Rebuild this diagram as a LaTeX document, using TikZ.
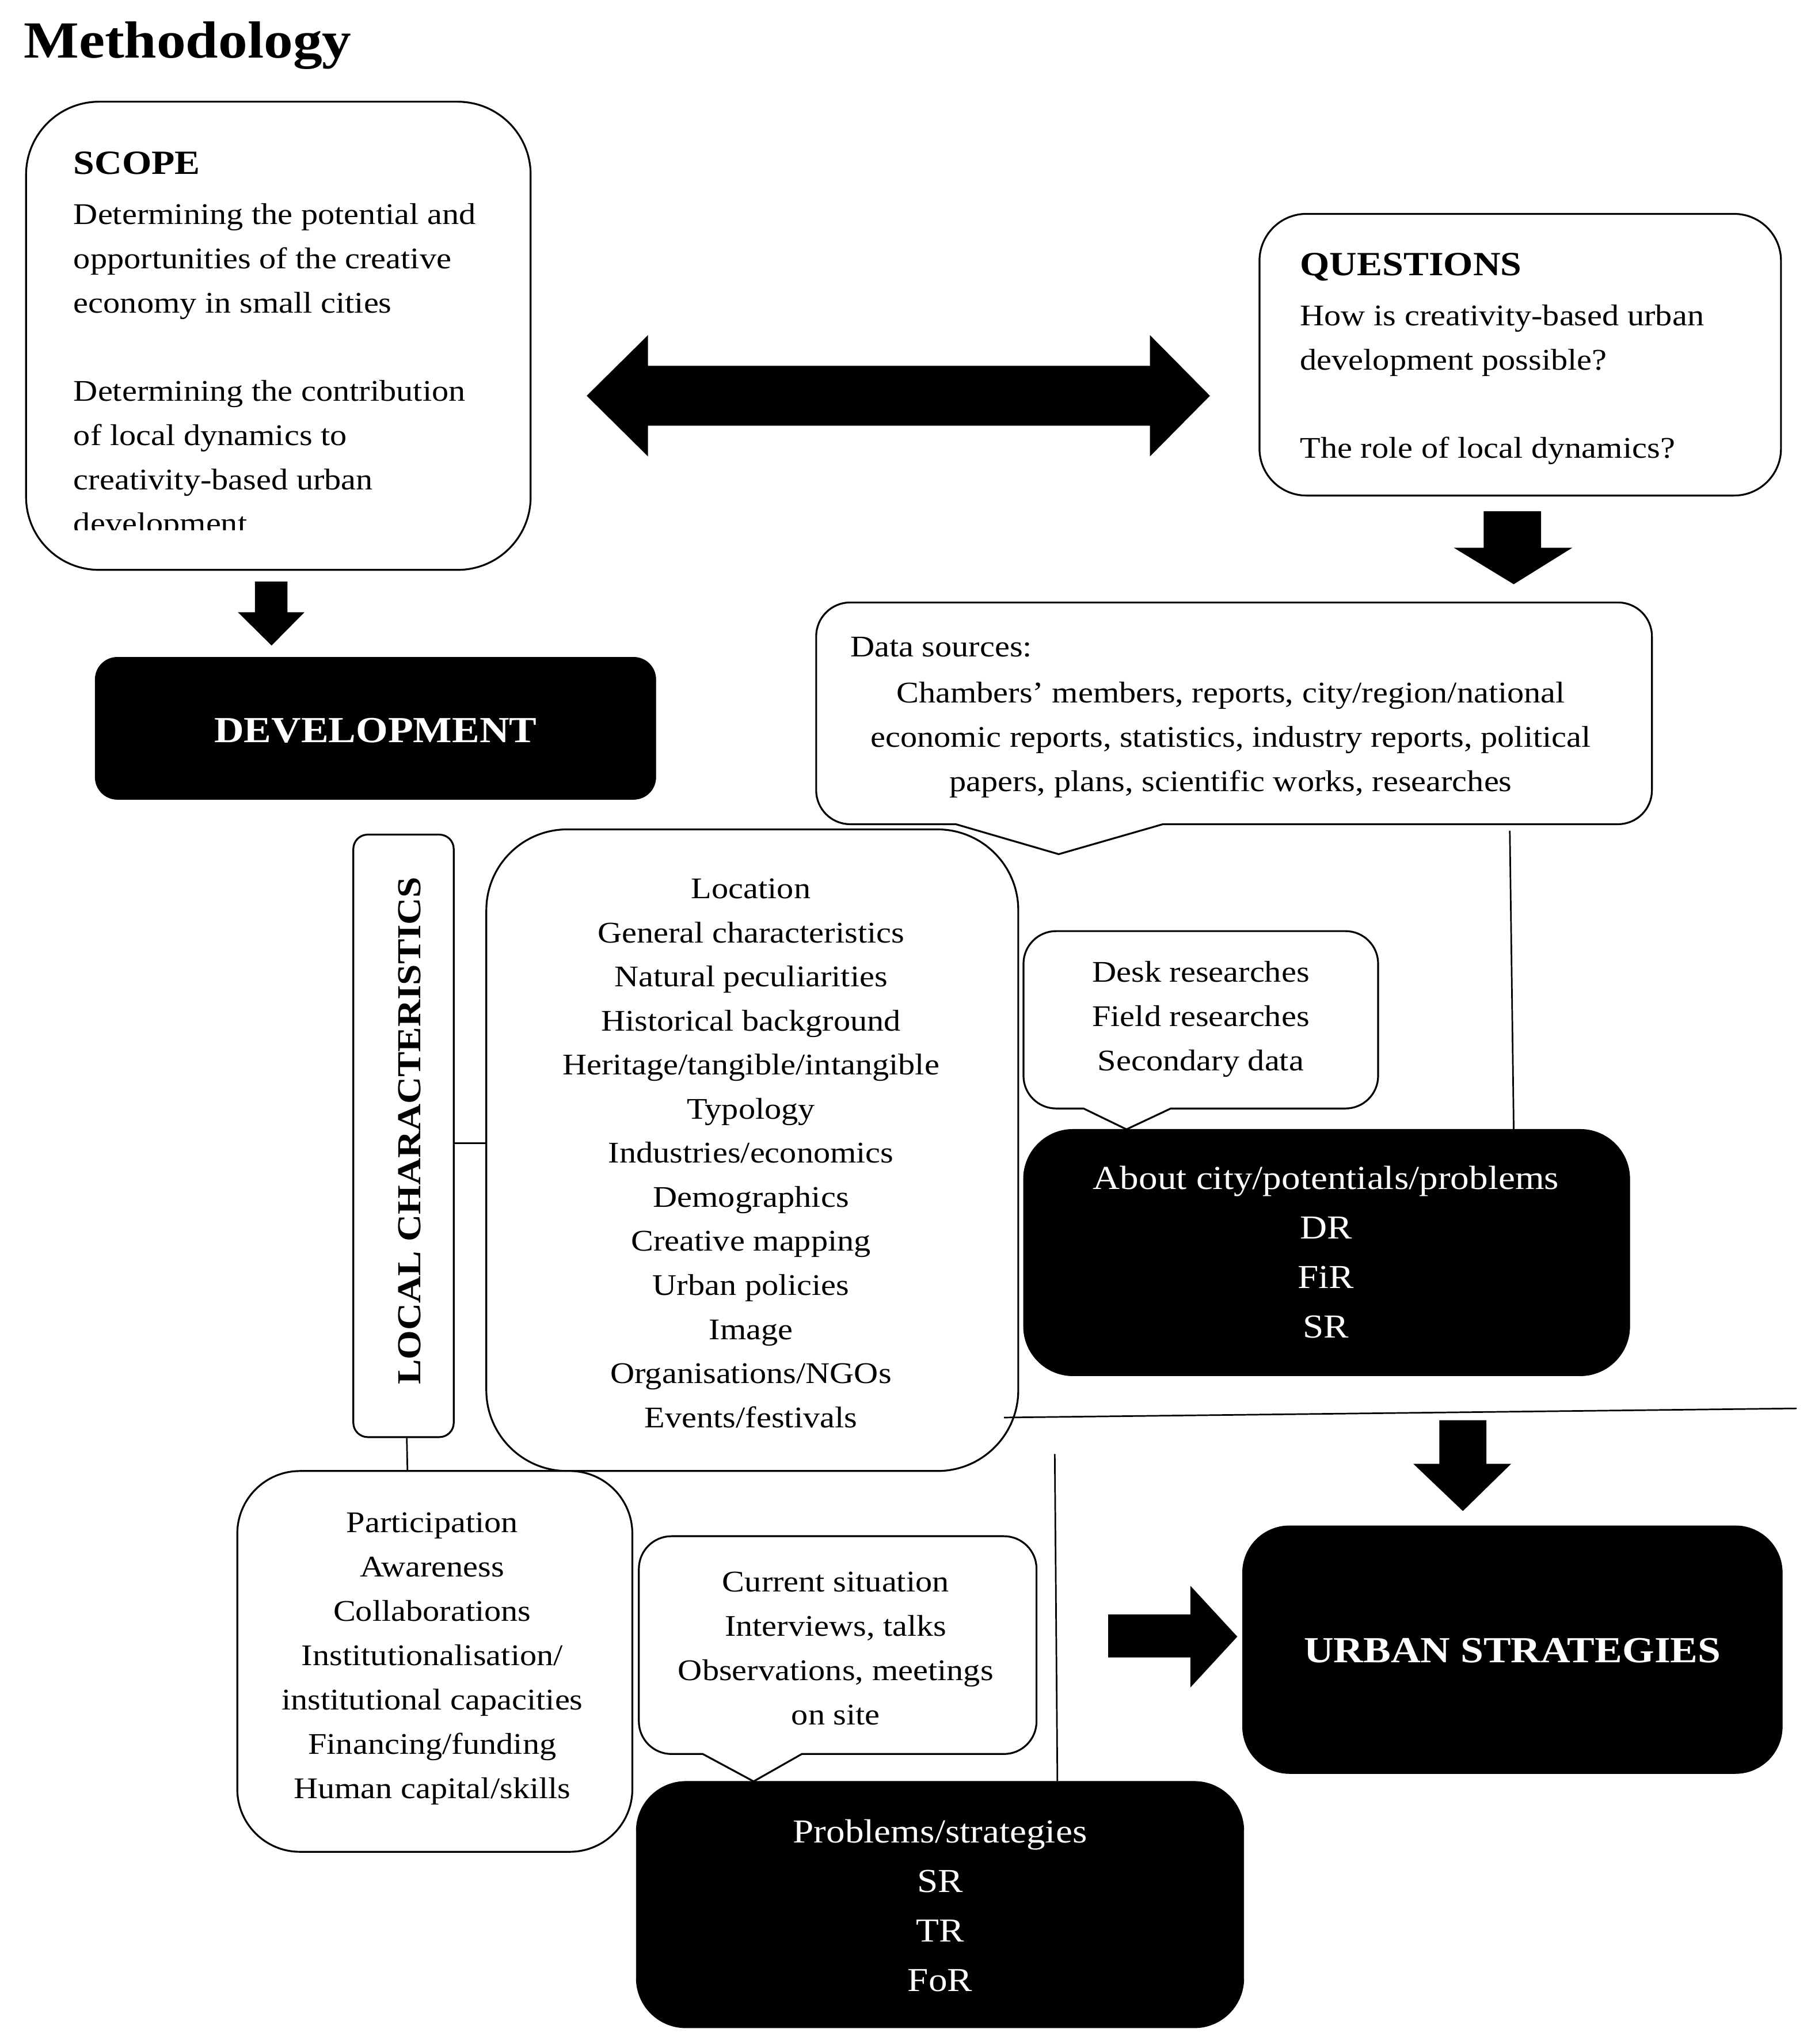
\documentclass[tikz,border=0pt]{standalone}
\usepackage{fontspec}
\setmainfont{Liberation Serif}[FakeStretch=1.12]
\usetikzlibrary{calc}
\tikzset{
 wbox/.style={draw=black, line width=1.4pt, fill=white, rounded corners=#1, inner sep=0pt},
 bbox/.style={draw=black, fill=black, rounded corners=#1, inner sep=0pt},
 body/.style={inner sep=0pt, anchor=base, font=\fontsize{23}{33.9}\selectfont},
 bodyw/.style={body, anchor=base west},
 bodyb/.style={inner sep=0pt, anchor=base, text=white, font=\fontsize{25.7}{38}\selectfont},
 head/.style={inner sep=0pt, anchor=base west, font=\fontsize{26}{30}\selectfont\bfseries},
 bighead/.style={inner sep=0pt, anchor=base, text=white, font=\fontsize{28.2}{32}\selectfont\bfseries},
 conn/.style={draw=black, line width=1.2pt},
 blockarrow/.style={fill=black},
 callout/.style={draw=black, line width=1.4pt, fill=white},
}
% x0 y0 x1 y1 r pa pb tipx tipy
\newcommand\mycallout[9]{%
 \draw[callout] (#1+#5,#2) -- (#3-#5,#2) arc[start angle=270,end angle=360,radius=#5]
   -- (#3,#4-#5) arc[start angle=0,end angle=90,radius=#5]
   -- (#7,#4) -- (#8,#9) -- (#6,#4)
   -- (#1+#5,#4) arc[start angle=90,end angle=180,radius=#5]
   -- (#1,#2+#5) arc[start angle=180,end angle=270,radius=#5] -- cycle;}
\begin{document}
\begin{tikzpicture}[x=1pt,y=-1pt]
\useasboundingbox (0,0) rectangle (1389,1567.4);
\fill[white] (0,0) rectangle (1389,1567.4);

% title
\node[inner sep=0pt, anchor=base west, font=\fontsize{40}{44}\selectfont\bfseries] (title) at (18,44.4) {Methodology};

% ---------- boxes ----------
\node[wbox=56, minimum width=387, minimum height=359] (scope) at (213.5,257.5) {};
\node[wbox=36, minimum width=400, minimum height=216] (questions) at (1166,272) {};
\node[bbox=17, minimum width=430, minimum height=109] (dev) at (288,558.5) {};
\node[wbox=11, minimum width=77, minimum height=462] (lc) at (309.5,871) {};
\node[wbox=62, minimum width=408, minimum height=492] (chars) at (577,882) {};
\node[bbox=38, minimum width=465, minimum height=189] (about) at (1017.5,960.5) {};
\node[wbox=48, minimum width=303, minimum height=292] (part) at (333.5,1274) {};
\node[bbox=38, minimum width=466, minimum height=189] (prob) at (721,1460.5) {};
\node[bbox=36, minimum width=414, minimum height=190] (urban) at (1160,1265) {};

% ---------- callouts ----------
\mycallout{626}{462}{1267}{632}{26}{733}{892}{812}{655}
\mycallout{785}{714}{1057}{850}{25}{831}{898}{864}{866}
\mycallout{490}{1178}{795}{1345}{25}{539}{615}{578}{1366}

% ---------- block arrows ----------
\fill[blockarrow] (450,303.5) -- (497,257) -- (497,280.5) -- (882,280.5) -- (882,257) -- (928,303.5)
  -- (882,350) -- (882,326.5) -- (497,326.5) -- (497,350) -- cycle;
\fill[blockarrow] (1138,392) -- (1182,392) -- (1182,420) -- (1206,420) -- (1161,448) -- (1115,420) -- (1138,420) -- cycle;
\fill[blockarrow] (195.5,446) -- (220.5,446) -- (220.5,469.5) -- (233.5,469.5) -- (208.3,495) -- (182.5,469.5) -- (195.5,469.5) -- cycle;
\fill[blockarrow] (1104,1089) -- (1140,1089) -- (1140,1122.5) -- (1159,1122.5) -- (1122,1158.7) -- (1084,1122.5) -- (1104,1122.5) -- cycle;
\fill[blockarrow] (850,1238) -- (913,1238) -- (913,1216) -- (949,1255) -- (913,1294) -- (913,1271) -- (850,1271) -- cycle;

% ---------- thin connectors ----------
\draw[conn] ($(lc.east)+(0,5.6)$) -- ($(chars.west)+(0,-5.4)$);
\draw[conn] ($(lc.south)+(2.5,0)$) -- ($(part.north)+(-21,0)$);
\coordinate (databot) at (1158,637);
\draw[conn] (databot) -- ($(about.north)+(143.5,0)$);
\coordinate (hlA) at (770,1087);
\coordinate (hlB) at (1378,1080);
\draw[conn] (hlA) -- (hlB);
\coordinate (vlA) at (809,1115);
\draw[conn] (vlA) -- ($(prob.north)+(90,0)$);

% ---------- texts ----------
\node[head] (scopehd) at (56.3,133.7) {SCOPE};
\foreach \t/\y [count=\i] in {Determining the potential and/172.0, opportunities of the creative/205.9,
  economy in small cities/239.8, Determining the contribution/307.5, of local dynamics to/341.4,
  creativity-based urban/375.3}
  \node[bodyw] (scopet\i) at (56.3,\y) {\t};
\begin{scope}
 \clip (40,380) rectangle (400,406.5);
 \node[bodyw] (scopet7) at (56.3,409.2) {development};
\end{scope}

\node[head] (qhd) at (997,211.4) {QUESTIONS};
\node[bodyw] (q1) at (997,249.7) {How is creativity-based urban};
\node[bodyw] (q2) at (997,283.6) {development possible?};
\node[bodyw] (q3) at (997,351.4) {The role of local dynamics?};

\node[bighead] (devt) at (288,569.4) {DEVELOPMENT};

\node[bodyw] (ds0) at (652,503.4) {Data sources:};
\foreach \t [count=\i from 0] in {Chambers’ members{,} reports{,} city/region/national,
  economic reports{,} statistics{,} industry reports{,} political,
  papers{,} plans{,} scientific works{,} researches}
  \node[body] (ds\i) at (944,539+33.9*\i) {\t};

\node[inner sep=0pt, rotate=90, font=\fontsize{25.7}{30}\selectfont\bfseries] (lct) at (314,867) {LOCAL CHARACTERISTICS};

\foreach \t [count=\i from 0] in {Location, General characteristics, Natural peculiarities,
  Historical background, Heritage/tangible/intangible, Typology, Industries/economics,
  Demographics, Creative mapping, Urban policies, Image, Organisations/NGOs, Events/festivals}
  \node[body] (ch\i) at (576,689+33.8*\i) {\t};

\foreach \t [count=\i from 0] in {Desk researches, Field researches, Secondary data}
  \node[body] (dk\i) at (921,753+34*\i) {\t};

\foreach \t [count=\i from 0] in {About city/potentials/problems, DR, FiR, SR}
  \node[bodyb] (ab\i) at (1017,912+38*\i) {\t};

\foreach \t [count=\i from 0] in {Participation, Awareness, Collaborations, Institutionalisation/,
  institutional capacities, Financing/funding, Human capital/skills}
  \node[body] (pa\i) at (331.5,1175+34*\i) {\t};

\foreach \t [count=\i from 0] in {Current situation, {Interviews, talks}, {Observations, meetings}, on site}
  \node[body] (cu\i) at (641,1220.5+34*\i) {\t};

\foreach \t [count=\i from 0] in {Problems/strategies, SR, TR, FoR}
  \node[bodyb] (pr\i) at (721,1413+38*\i) {\t};

\node[bighead] (urbt) at (1160,1275) {URBAN STRATEGIES};
\end{tikzpicture}
\end{document}
